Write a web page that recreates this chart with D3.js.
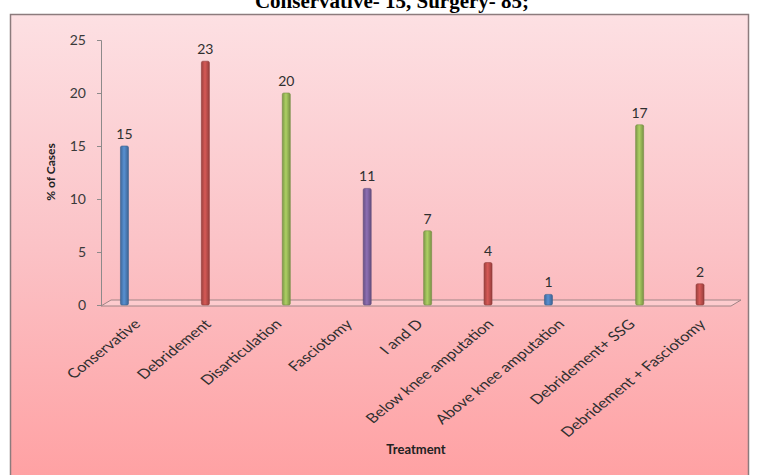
<!DOCTYPE html>
<html>
<head>
<meta charset="utf-8">
<script src="https://cdn.jsdelivr.net/npm/d3@7"></script>
<style>
  body { margin: 0; background: #fff; }
  svg { display: block; }
</style>
</head>
<body>
<svg id="chart"></svg>
<script>
// chart data
const categories = ["Conservative", "Debridement", "Disarticulation", "Fasciotomy", "I and D",
  "Below knee amputation", "Above knee amputation", "Debridement+ SSG", "Debridement + Fasciotomy"];
const values = [15, 23, 20, 11, 7, 4, 1, 17, 2];
// which excel series each bar sits in (drives the colour and the small offset)
const seriesOf = [0, 1, 2, 3, 2, 1, 0, 2, 1];
const seriesNames = ["s1", "s2", "s3", "s4"];
const seriesColors = ["#4f81bd", "#c0504d", "#9bbb59", "#8064a2"];
const yTicks = [0, 5, 10, 15, 20, 25];
const title = "Conservative- 15, Surgery- 85;";

const width = 758, height = 475;
const svg = d3.select("#chart").attr("width", width).attr("height", height);
const defs = svg.append("defs");

// pink background gradient of the chart area
const bg = defs.append("linearGradient").attr("id", "bg")
  .attr("x1", 0).attr("y1", 0).attr("x2", 0).attr("y2", 1);
bg.append("stop").attr("offset", "0%").attr("stop-color", "#fde0e3");
bg.append("stop").attr("offset", "50%").attr("stop-color", "#fbc2c6");
bg.append("stop").attr("offset", "100%").attr("stop-color", "#ffa0a2");

// cylinder-ish shading for each series
seriesColors.forEach((c, i) => {
  const g = defs.append("linearGradient").attr("id", "bar" + i)
    .attr("x1", 0).attr("y1", 0).attr("x2", 1).attr("y2", 0);
  g.append("stop").attr("offset", "0%").attr("stop-color", d3.color(c).darker(0.6));
  g.append("stop").attr("offset", "45%").attr("stop-color", d3.color(c).brighter(0.3));
  g.append("stop").attr("offset", "100%").attr("stop-color", d3.color(c).darker(0.7));
});

// title (cut off at the top like in the source)
svg.append("text")
  .attr("x", 392).attr("y", 8)
  .attr("text-anchor", "middle")
  .style("font-family", "'Liberation Serif', 'Times New Roman', serif")
  .style("font-weight", "bold")
  .style("font-size", "21px")
  .text(title);

// chart frame
svg.append("rect")
  .attr("x", 10.5).attr("y", 14.5)
  .attr("width", 738).attr("height", 470)
  .attr("fill", "url(#bg)")
  .attr("stroke", "#8c7b7d").attr("stroke-width", 1.5);

const font = "Lato, 'Open Sans', sans-serif";

// scales
const x = d3.scaleBand().domain(categories).range([101, 737]);
const x1 = d3.scaleBand().domain(seriesNames).range([-17, 24]);
const y = d3.scaleLinear().domain([0, 25]).range([305, 40]);
const barW = 8;

// 3d floor
const fl = 101, fr = 731, depthX = 10, depthY = 6;
svg.append("path")
  .attr("d", `M${fl},${y(0) + 1}L${fr},${y(0) + 1}L${fr + depthX},${y(0) + 1 - depthY}L${fl + depthX},${y(0) + 1 - depthY}Z`)
  .attr("fill", "rgba(255,255,255,0.25)")
  .attr("stroke", "#a08486").attr("stroke-width", 1);

// y axis
const yAxis = svg.append("g")
  .attr("transform", "translate(101,0)")
  .call(d3.axisLeft(y).tickValues(yTicks).tickSize(4).tickPadding(11));
yAxis.select(".domain").attr("stroke", "#8d8a8a");
yAxis.selectAll(".tick line").attr("stroke", "#8d8a8a");
yAxis.selectAll("text")
  .attr("fill", "#3a3a3a")
  .style("font-family", font)
  .style("font-size", "14px");

// bars
svg.selectAll("rect.bar")
  .data(values)
  .enter().append("rect")
  .attr("class", "bar")
  .attr("x", (d, i) => x(categories[i]) + x.bandwidth() / 2 + x1(seriesNames[seriesOf[i]]) + x1.bandwidth() / 2 - barW / 2)
  .attr("y", d => y(d))
  .attr("width", barW)
  .attr("height", d => y(0) - y(d))
  .attr("rx", 1.5)
  .attr("fill", (d, i) => `url(#bar${seriesOf[i]})`)
  .attr("stroke", (d, i) => d3.color(seriesColors[seriesOf[i]]).darker(0.8))
  .attr("stroke-width", 0.6);

// value labels
svg.selectAll("text.val")
  .data(values)
  .enter().append("text")
  .attr("class", "val")
  .attr("x", (d, i) => x(categories[i]) + x.bandwidth() / 2 + x1(seriesNames[seriesOf[i]]) + x1.bandwidth() / 2)
  .attr("y", d => y(d) - 7)
  .attr("text-anchor", "middle")
  .attr("fill", "#2f2f2f")
  .style("font-family", font)
  .style("font-size", "14px")
  .text(d => d);

// category labels, rotated 45deg then stretched sideways like the source image
const xAxis = svg.append("g")
  .attr("transform", `translate(0,${y(0)})`)
  .call(d3.axisBottom(x).tickSize(0).tickPadding(0));
xAxis.select(".domain").remove();
xAxis.selectAll("text")
  .attr("text-anchor", "end")
  .attr("dy", 0)
  .attr("transform", "translate(5,20) scale(1.23,1) rotate(-45)")
  .attr("fill", "#2f2f2f")
  .style("font-family", font)
  .style("font-size", "13.5px");

// axis titles
svg.append("text")
  .attr("transform", "translate(55,172) rotate(-90)")
  .attr("text-anchor", "middle")
  .attr("fill", "#222")
  .style("font-family", font)
  .style("font-weight", "bold")
  .style("font-size", "12px")
  .text("% of Cases");

svg.append("text")
  .attr("x", 416).attr("y", 454)
  .attr("text-anchor", "middle")
  .attr("fill", "#222")
  .style("font-family", font)
  .style("font-weight", "bold")
  .style("font-size", "13px")
  .text("Treatment");
</script>
</body>
</html>
